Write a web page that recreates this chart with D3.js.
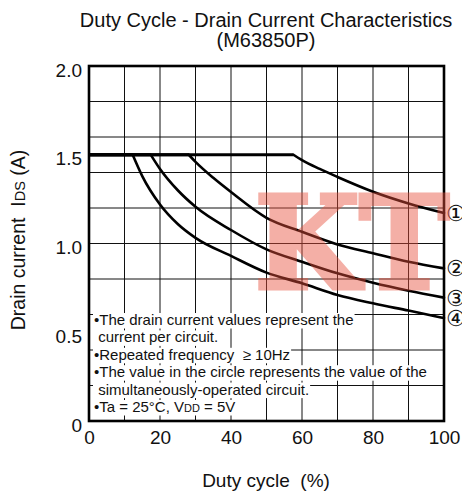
<!DOCTYPE html>
<html>
<head>
<meta charset="utf-8">
<script src="https://cdn.jsdelivr.net/npm/d3@7/dist/d3.min.js"></script>
<style>
  html, body { margin: 0; padding: 0; background: #fff; }
  svg { display: block; font-family: "Liberation Sans", Arial, Helvetica, sans-serif; }
</style>
</head>
<body>
<svg id="chart" width="462" height="495"></svg>
<script>
// ---- data ----
const xTickValues = [0, 20, 40, 60, 80, 100];
const xTickLabels = ["0", "20", "40", "60", "80", "100"];
const yTickValues = [0, 0.5, 1.0, 1.5, 2.0];
const yTickLabels = ["0", "0.5", "1.0", "1.5", "2.0"];

const curveNames = ["①", "②", "③", "④"];
const duty1 = [0, 57.6, 60, 65, 70, 80, 90, 100];
const ids1  = [1.5, 1.5, 1.47, 1.42, 1.375, 1.292, 1.226, 1.172];
const duty2 = [0, 28.1, 30, 35, 40, 50, 60, 70, 80, 90, 100];
const ids2  = [1.5, 1.5, 1.46, 1.37, 1.29, 1.145, 1.066, 0.995, 0.945, 0.897, 0.86];
const duty3 = [0, 17.4, 20, 25, 30, 40, 50, 60, 70, 80, 90, 100];
const ids3  = [1.5, 1.5, 1.42, 1.30, 1.207, 1.076, 0.967, 0.897, 0.832, 0.779, 0.734, 0.695];
const duty4 = [0, 12.3, 15, 20, 25, 30, 40, 50, 60, 70, 80, 90, 100];
const ids4  = [1.5, 1.5, 1.38, 1.22, 1.11, 1.032, 0.93, 0.836, 0.776, 0.71, 0.663, 0.622, 0.58];

const titleLines = ["Duty Cycle - Drain Current Characteristics", "(M63850P)"];
const notes = [
  [{t: "•The drain current values represent the"}],
  [{t: " current per circuit."}],
  [{t: "•Repeated frequency  ≥ 10Hz"}],
  [{t: "•The value in the circle represents the value of the"}],
  [{t: " simultaneously-operated circuit."}],
  [{t: "•Ta = 25°C, V"}, {t: "DD", small: true}, {t: " = 5V"}]
];

// ---- drawing ----
const svg = d3.select("#chart");
const x = d3.scaleLinear().domain([0, 100]).range([89, 444]);
const y = d3.scaleLinear().domain([0, 2]).range([421, 66]);

// grid
const g = svg.append("g");
g.selectAll("line.vg").data(x.ticks(10)).join("line")
  .attr("x1", d => x(d)).attr("x2", d => x(d))
  .attr("y1", y(2)).attr("y2", y(0))
  .attr("stroke", "#111").attr("stroke-width", 1);
g.selectAll("line.hg").data(y.ticks(8)).join("line")
  .attr("x1", x(0)).attr("x2", x(100))
  .attr("y1", d => y(d)).attr("y2", d => y(d))
  .attr("stroke", "#111").attr("stroke-width", 1);

// notes with white background per line
const noteG = svg.append("g");
const noteX = 94, noteY0 = 325, noteDy = 17.4, noteFs = 15;
notes.forEach((parts, i) => {
  const t = noteG.append("text")
    .attr("x", noteX).attr("y", noteY0 + i * noteDy)
    .attr("font-size", noteFs).attr("fill", "#111")
    .attr("xml:space", "preserve").style("white-space", "pre");
  parts.forEach(p => {
    t.append("tspan").text(p.t).attr("font-size", p.small ? 11 : noteFs);
  });
  const bb = t.node().getBBox();
  noteG.insert("rect", "text")
    .attr("x", bb.x - 1).attr("y", noteY0 + i * noteDy - 12)
    .attr("width", bb.width + 2).attr("height", 15.5)
    .attr("fill", "#fff");
});

// curves
const series = [[duty1, ids1], [duty2, ids2], [duty3, ids3], [duty4, ids4]];
const flat = d3.line().x(d => x(d[0])).y(d => y(d[1]));
const smooth = d3.line().x(d => x(d[0])).y(d => y(d[1])).curve(d3.curveMonotoneX);
series.forEach(([dx, dy]) => {
  const pts = dx.map((v, i) => [v, dy[i]]);
  svg.append("path").attr("d", flat(pts.slice(0, 2)))
    .attr("fill", "none").attr("stroke", "#000").attr("stroke-width", 2.8);
  svg.append("path").attr("d", smooth(pts.slice(1)))
    .attr("fill", "none").attr("stroke", "#000").attr("stroke-width", 2.6)
    .attr("stroke-linecap", "round");
});

// frame
svg.append("rect")
  .attr("x", x(0)).attr("y", y(2))
  .attr("width", x(100) - x(0)).attr("height", y(0) - y(2))
  .attr("fill", "none").attr("stroke", "#000").attr("stroke-width", 2.6);

// axes (labels only)
const xAxis = d3.axisBottom(x).tickValues(xTickValues)
  .tickFormat((d, i) => xTickLabels[i]).tickSize(0).tickPadding(0);
const xa = svg.append("g").attr("transform", `translate(0, ${y(0)})`).call(xAxis);
xa.select(".domain").remove();
xa.selectAll("text").attr("font-size", 19).attr("font-family", "Liberation Sans, Arial, sans-serif")
  .attr("fill", "#111").attr("dy", "0").attr("y", 23);

const yAxis = d3.axisLeft(y).tickValues(yTickValues)
  .tickFormat((d, i) => yTickLabels[i]).tickSize(0).tickPadding(0);
const ya = svg.append("g").attr("transform", `translate(82, 0)`).call(yAxis);
ya.select(".domain").remove();
ya.selectAll("text").attr("font-size", 19).attr("font-family", "Liberation Sans, Arial, sans-serif")
  .attr("fill", "#111").attr("x", 0).attr("dy", "0").attr("y", 10);

// title
svg.append("g").selectAll("text").data(titleLines).join("text")
  .attr("x", 266).attr("y", (d, i) => 27 + i * 20)
  .attr("text-anchor", "middle").attr("font-size", 20).attr("fill", "#111")
  .text(d => d);

// axis titles
svg.append("text").attr("x", 266).attr("y", 487)
  .attr("text-anchor", "middle").attr("font-size", 19).attr("fill", "#111")
  .attr("xml:space", "preserve").style("white-space", "pre")
  .text("Duty cycle  (%)");

const yt = svg.append("text")
  .attr("transform", "translate(25, 240) rotate(-90)")
  .attr("text-anchor", "middle").attr("font-size", 19.5).attr("fill", "#111")
  .attr("xml:space", "preserve").style("white-space", "pre");
yt.append("tspan").text("Drain current  I");
yt.append("tspan").text("DS").attr("font-size", 14.5);
yt.append("tspan").text(" (A)");

// circled labels at right end
svg.append("g").selectAll("text").data(series).join("text")
  .attr("x", 446).attr("y", d => y(d[1][d[1].length - 1]))
  .attr("dy", "0.36em")
  .attr("font-family", "DejaVu Sans, sans-serif").attr("font-size", 22)
  .attr("fill", "#111")
  .text((d, i) => curveNames[i]);

// watermark
svg.append("g").attr("opacity", 0.45)
  .append("text")
  .attr("x", 255).attr("y", 288)
  .attr("font-family", "DejaVu Serif, serif").attr("font-weight", "bold")
  .attr("font-size", 128)
  .attr("textLength", 194).attr("lengthAdjust", "spacingAndGlyphs")
  .attr("fill", "#e8503c").attr("stroke", "#e8503c").attr("stroke-width", 5)
  .attr("stroke-linejoin", "miter")
  .text("KT");
</script>
</body>
</html>
